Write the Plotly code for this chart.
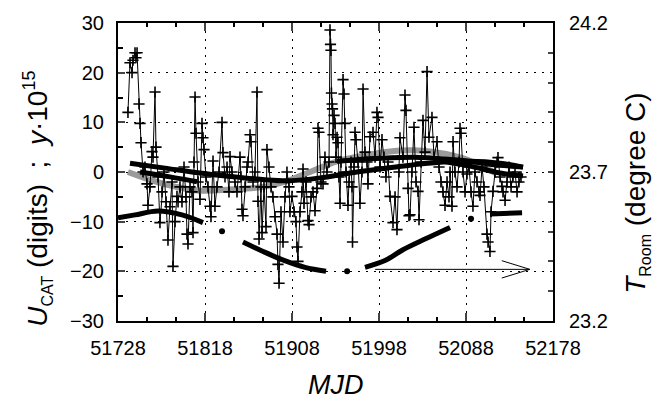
import plotly.graph_objects as go

# ---------------- data ----------------
mjd_u = [51738.3, 51740.4, 51742.5, 51743.5, 51745.6, 51746.6, 51747.7, 51749.7, 51750.8, 51751.8,
         51753.9, 51755.9, 51758.0, 51759.0, 51761.1, 51763.2, 51764.2, 51766.3, 51767.3, 51769.4,
         51771.4, 51773.5, 51775.6, 51777.7, 51779.7, 51781.8, 51783.9, 51784.9, 51787.0, 51789.0,
         51790.1, 51792.1, 51794.2, 51796.3, 51798.3, 51799.4, 51800.4, 51802.5, 51804.6, 51805.6,
         51806.6, 51807.7, 51808.7, 51810.8, 51812.8, 51814.9, 51815.9, 51817.0, 51819.0, 51821.1,
         51823.2, 51824.2, 51826.3, 51828.3, 51830.4, 51832.5, 51835.6, 51836.6, 51838.7, 51840.8,
         51842.8, 51843.9, 51845.9, 51849.0, 51851.1, 51854.2, 51855.2, 51856.3, 51857.3, 51859.4,
         51861.5, 51862.5, 51864.6, 51865.6, 51867.7, 51869.7, 51871.8, 51872.8, 51873.9, 51875.9,
         51877.0, 51879.0, 51881.1, 51882.1, 51884.2, 51886.3, 51888.3, 51890.4, 51892.5, 51893.5,
         51894.6, 51896.6, 51898.7, 51900.8, 51902.8, 51904.9, 51905.9, 51908.0, 51910.1, 51912.1,
         51913.2, 51914.2, 51916.3, 51918.3, 51919.4, 51920.4, 51922.5, 51924.6, 51925.6, 51927.7,
         51929.7, 51931.8, 51933.9, 51934.9, 51935.9, 51938.0, 51940.1, 51942.1, 51944.2, 51946.3,
         51947.3, 51947.8, 51948.3, 51948.8, 51949.4, 51949.9, 51950.4, 51951.5, 51952.5, 51953.5,
         51954.6, 51955.6, 51956.6, 51957.7, 51958.7, 51960.8, 51961.8, 51962.8, 51963.9, 51965.9,
         51967.0, 51969.0, 51970.1, 51970.6, 51972.1, 51973.2, 51974.2, 51976.3, 51978.3, 51980.4,
         51981.5, 51983.5, 51985.6, 51986.6, 51988.7, 51991.8, 51993.9, 51995.9, 51997.0, 51999.0,
         52001.1, 52003.2, 52005.2, 52007.3, 52009.4, 52012.5, 52014.6, 52016.6, 52018.7, 52019.7,
         52022.8, 52024.9, 52025.9, 52028.0, 52029.0, 52030.1, 52032.1, 52034.2, 52036.3, 52038.4,
         52039.4, 52041.5, 52043.5, 52045.6, 52047.7, 52049.7, 52052.8, 52054.9, 52058.0, 52060.1,
         52062.1, 52064.2, 52066.3, 52068.4, 52070.4, 52071.5, 52073.5, 52074.6, 52076.6, 52078.7,
         52080.8, 52081.8, 52082.8, 52084.9, 52087.0, 52089.0, 52091.1, 52093.2, 52095.2, 52097.3,
         52099.4, 52101.5, 52102.5, 52104.6, 52106.6, 52109.7, 52110.8, 52112.8, 52113.9, 52115.9,
         52118.0, 52120.1, 52121.1, 52123.2, 52125.2, 52126.3, 52128.4, 52130.4, 52132.5, 52134.6,
         52136.6, 52138.7, 52140.8, 52142.8, 52144.9]
u_cat = [12.0, 22.0, 20.0, 22.5, 24.0, 23.0, 24.0, 13.7, 9.8, 5.9,
         0.0, 1.0, -2.4, -6.7, -3.0, 4.1, 3.0, 16.1, 5.0, -1.0,
         -10.2, -4.0, 0.0, -6.0, -13.7, -7.0, -2.0, -19.0, -10.0, -4.9,
         -6.0, -3.0, -6.0, 1.0, -5.0, -12.5, -14.5, -3.0, -4.0, -12.2,
         2.0, 15.1, 7.8, -2.0, -5.5, 9.8, 6.9, 4.5, -1.0, -3.0,
         -6.9, -9.0, 2.2, -6.9, -3.0, 0.0, 10.0, 3.9, -1.0, 1.0,
         -4.0, 3.1, 0.0, -2.0, -4.0, 3.0, -1.0, -7.5, -8.8, -3.0,
         1.0, 2.0, 7.5, 6.1, -2.0, 0.0, 16.1, -5.9, -13.5, -3.0,
         -12.2, -3.0, -11.0, 4.5, 1.0, -3.0, -5.0, -9.0, -12.5, -18.6,
         -22.4, -8.0, -14.1, -5.0, 0.0, -3.0, -8.0, -4.9, -8.0, -10.0,
         -15.1, -18.0, -8.0, -4.0, 0.6, -6.3, -2.0, -9.8, -10.6, -5.0,
         -4.0, -7.8, -3.3, 8.8, 8.0, -2.0, -2.4, 3.0, 0.0, 2.0,
         28.6, 25.7, 24.5, 15.9, 13.7, 12.7, 7.5, 11.4, 9.8, 3.0,
         7.0, 5.9, -1.0, -6.3, 2.0, 18.6, 15.7, 9.8, 0.0, -6.7,
         -2.0, 2.0, -3.0, -14.1, 1.0, 8.0, 6.5, 2.0, -6.3, 0.0,
         16.7, 4.0, 2.0, -2.4, 7.1, 8.0, 3.0, 12.0, 11.0, 1.0,
         6.5, 3.0, -1.0, 2.0, -4.9, -10.2, -5.0, -11.6, 0.0, 6.9,
         3.0, 15.5, 12.4, -3.3, -8.8, -8.6, 0.0, 9.0, -2.0, -3.9,
         -9.6, 2.0, 10.4, 4.0, 20.2, 7.0, 11.0, 3.0, 6.1, 1.0,
         -2.0, -4.0, -6.7, -2.0, -5.0, 0.0, -6.9, 6.1, 0.0, -3.0,
         2.0, 8.8, 7.8, 0.0, -4.0, -0.4, 1.0, -4.0, -6.9, 0.0,
         -2.0, -4.0, -4.7, 1.0, -3.0, -12.5, -14.1, -16.0, -8.0, -3.9,
         0.0, 2.0, 2.9, -1.0, -2.9, -4.0, -5.7, -2.0, 1.0, -3.0,
         -1.0, 0.0, -4.0, -2.0, -1.0]

# grey thick curve (y x 1e15)
mjd_grey = [51738.3, 51761.1, 51787.0, 51810.8, 51843.9, 51880.1, 51900.8, 51926.6,
            51954.6, 51988.7, 52019.7, 52050.8, 52081.8, 52102.5, 52120.1]
y_grey = [0.0, -1.57, -2.94, -3.73, -3.53, -2.94, -1.96, 0.0,
          2.16, 3.53, 4.31, 4.12, 2.94, 1.37, -0.39]

# black thick curves (y x 1e15)
mjd_s1 = [51740.4, 51776.6, 51812.8, 51849.0, 51880.1, 51905.9, 51937.0, 51968.0,
          51999.0, 52030.1, 52061.1, 52092.1, 52123.2, 52147.0]
y_s1 = [1.76, 0.78, -0.2, -0.98, -1.57, -1.76, -1.18, -0.2,
        0.59, 1.37, 1.96, 2.16, 1.76, 0.98]
mjd_s2 = [51750.8, 51781.8, 51809.7]
y_s2 = [0.0, -0.98, -1.96]
mjd_s3 = [51954.6, 51999.0, 52040.4, 52081.8, 52112.8, 52147.0]
y_s3 = [2.16, 2.75, 2.94, 2.35, 1.57, 0.98]
mjd_s4 = [52064.2, 52092.1, 52123.2, 52147.0]
y_s4 = [2.16, 1.18, -0.2, -0.78]

# room temperature (degree C), right axis
mjd_ta = [51728.0, 51745.6, 51769.4, 51794.2, 51815.9]
t_ta = [23.546, 23.556, 23.569, 23.556, 23.530]
mjd_tb = [51857.3, 51877.0, 51897.7, 51921.5, 51943.2]
t_tb = [23.465, 23.435, 23.406, 23.380, 23.367]
mjd_tc = [51983.5, 52004.2, 52022.8, 52045.6, 52071.5]
t_tc = [23.380, 23.403, 23.439, 23.475, 23.514]
mjd_td = [52112.8, 52146.0]
t_td = [23.559, 23.563]
mjd_tdots = [51835.6, 51965.0, 52093.2]
t_tdots = [23.501, 23.367, 23.543]

# arrow (data units, left axis)
arrow_x0, arrow_x1, arrow_head_x = 51994, 52154, 52125
arrow_y, arrow_head_dy = -19.6, 1.75

x_ticks = [51728, 51818, 51908, 51998, 52088, 52178]
x_labels = ["51728", "51818", "51908", "51998", "52088", "52178"]
y_ticks = [-30, -20, -10, 0, 10, 20, 30]
t_ticks = [23.2, 23.3, 23.4, 23.5, 23.6, 23.7, 23.8, 23.9, 24.0, 24.1, 24.2]
t_labels = ["23.2", "", "", "", "", "23.7", "", "", "", "", "24.2"]

FONT = "Liberation Sans, Arial, Helvetica, sans-serif"

fig = go.Figure()

thick = dict(color="black", width=5)
fig.add_trace(go.Scatter(x=mjd_grey, y=y_grey, mode="lines", line=dict(color="#9a9a9a", width=6, shape="spline"), showlegend=False))
for xs, ys in [(mjd_s1, y_s1), (mjd_s2, y_s2), (mjd_s3, y_s3), (mjd_s4, y_s4)]:
    fig.add_trace(go.Scatter(x=xs, y=ys, mode="lines", line=dict(shape="spline", **thick), showlegend=False))

fig.add_trace(go.Scatter(x=mjd_u, y=u_cat, mode="lines+markers",
                         line=dict(color="black", width=1),
                         marker=dict(symbol="cross-thin", size=8, line=dict(color="black", width=1.6)),
                         showlegend=False))

for xs, ts in [(mjd_ta, t_ta), (mjd_tb, t_tb), (mjd_tc, t_tc), (mjd_td, t_td)]:
    fig.add_trace(go.Scatter(x=xs, y=ts, yaxis="y2", mode="lines",
                             line=dict(shape="spline", **thick), showlegend=False))
fig.add_trace(go.Scatter(x=mjd_tdots, y=t_tdots, yaxis="y2", mode="markers",
                         marker=dict(color="black", size=6), showlegend=False))

# arrow pointing to the right axis
line_style = dict(color="black", width=1)
fig.add_shape(type="line", xref="x", yref="y", x0=arrow_x0, x1=arrow_x1, y0=arrow_y, y1=arrow_y, line=line_style)
fig.add_shape(type="line", xref="x", yref="y", x0=arrow_head_x, x1=arrow_x1, y0=arrow_y + arrow_head_dy, y1=arrow_y, line=line_style)
fig.add_shape(type="line", xref="x", yref="y", x0=arrow_head_x, x1=arrow_x1, y0=arrow_y - arrow_head_dy, y1=arrow_y, line=line_style)

grid = dict(showgrid=True, gridcolor="black", gridwidth=1, griddash="2px,6px")

left_title = ("<i>U</i><sub><span style='font-size:16px'>CAT</span></sub> (digits)&nbsp;&nbsp;;&nbsp;&nbsp;"
              "<i>y</i>·10<sup><span style='font-size:18px'>15</span></sup>")
right_title = "<i>T</i><sub><span style='font-size:16px'>Room</span></sub> (degree C)"

fig.update_layout(
    width=672, height=407,
    margin=dict(l=118, r=119, t=15, b=86),
    paper_bgcolor="white", plot_bgcolor="white",
    font=dict(family=FONT, size=20, color="black"),
    xaxis=dict(range=[51728, 52178], tickvals=x_ticks, ticktext=x_labels, ticks="inside", ticklen=8, tickwidth=1.5,
               showline=True, linecolor="black", linewidth=2, mirror="ticks",
               minor=dict(dtick=30, tick0=51728, ticks="inside", ticklen=4, tickcolor="black", showgrid=False),
               zeroline=False, ticklabelstandoff=8, **grid),
    yaxis=dict(range=[-30, 30], tickvals=y_ticks, ticks="inside", ticklen=7, tickwidth=1.5,
               showline=True, linecolor="black", linewidth=2, mirror=True,
               minor=dict(dtick=5, tick0=0, ticks="inside", ticklen=5, tickcolor="black", showgrid=False),
               zeroline=False, ticklabelstandoff=8, **grid),
    yaxis2=dict(range=[23.2, 24.2], overlaying="y", side="right", tickvals=t_ticks, ticktext=t_labels,
                ticks="inside", ticklen=5, tickwidth=1.5, showline=True, linecolor="black", linewidth=2,
                showgrid=False, zeroline=False, ticklabelstandoff=10),
    annotations=[
        dict(text="<i>MJD</i>", xref="paper", yref="paper", x=0.5, y=-0.216, showarrow=False,
             font=dict(size=27), xanchor="center", yanchor="middle"),
        dict(text=left_title, xref="paper", yref="paper",
             x=-0.184, y=0.41, textangle=-90, showarrow=False, font=dict(size=28),
             xanchor="center", yanchor="middle"),
        dict(text=right_title, xref="paper", yref="paper",
             x=1.193, y=0.43, textangle=-90, showarrow=False, font=dict(size=28),
             xanchor="center", yanchor="middle"),
    ],
)

fig.write_html("out.html")
